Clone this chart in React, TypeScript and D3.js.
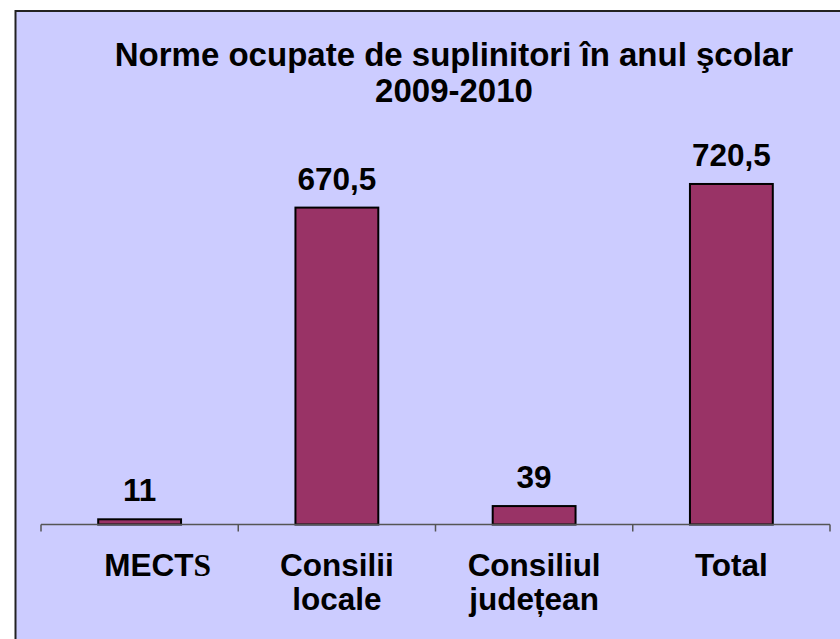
import React from "react";
import * as d3 from "d3";

const categories: string[][] = [["MECT", "S"], ["Consilii", "locale"], ["Consiliul", "județean"], ["Total"]];
const categoryKeys = ["MECTS", "Consilii locale", "Consiliul judetean", "Total"];
const values = [11, 670.5, 39, 720.5];
const valueLabels = ["11", "670,5", "39", "720,5"];
const titleLines = ["Norme ocupate de suplinitori în anul şcolar", "2009-2010"];
const yDomain = [0, 800];

const W = 840;
const H = 639;
const FONT = "'Liberation Sans', Arial, sans-serif";

export default function App() {
  const x = d3.scaleBand<string>().domain(categoryKeys).range([41, 830]).paddingInner(0).paddingOuter(0);
  const y = d3.scaleLinear().domain(yDomain).range([524.5, 146.4]);
  const barW = x.bandwidth() * 0.42;
  const axisY = y(0);

  return (
    <svg width={W} height={H} style={{ position: "absolute", left: 0, top: 0 }} xmlns="http://www.w3.org/2000/svg">
      <rect x={0} y={0} width={W} height={H} fill="#ffffff" />
      <rect x={15.5} y={11} width={W + 20} height={H + 20} fill="#CCCCFF" stroke="#222" strokeWidth={2} />
      {titleLines.map((t, i) => (
        <text key={i} x={454} y={66 + i * 36} textAnchor="middle" fontFamily={FONT} fontWeight="bold" fontSize={33} fill="#000">
          {t}
        </text>
      ))}
      {categoryKeys.map((k, i) => {
        const cx = (x(k) as number) + x.bandwidth() / 2;
        const top = y(values[i]);
        return (
          <g key={k}>
            <rect x={cx - barW / 2} y={top} width={barW} height={axisY - top} fill="#993366" stroke="#000" strokeWidth={2} />
            <text x={cx} y={top - 18} textAnchor="middle" fontFamily={FONT} fontWeight="bold" fontSize={31.5} fill="#000">
              {valueLabels[i]}
            </text>
          </g>
        );
      })}
      <line x1={41} x2={830} y1={axisY} y2={axisY} stroke="#555" strokeWidth={1.5} />
      {[...categoryKeys.map((k) => x(k) as number), 830].map((tx, i) => (
        <line key={i} x1={tx} x2={tx} y1={axisY} y2={axisY + 7} stroke="#555" strokeWidth={1.5} />
      ))}
      {categoryKeys.map((k, i) => {
        const cx = (x(k) as number) + x.bandwidth() / 2;
        const lines = categories[i];
        if (i === 0) {
          return (
            <text key={k} x={cx + 18} y={576} textAnchor="middle" fontFamily={FONT} fontWeight="bold" fontSize={31.5} fill="#000">
              {lines[0]}
              <tspan fontFamily="'Liberation Serif', 'Times New Roman', serif">{lines[1]}</tspan>
            </text>
          );
        }
        return (
          <text key={k} textAnchor="middle" fontFamily={FONT} fontWeight="bold" fontSize={31.5} fill="#000">
            {lines.map((l, j) => (
              <tspan key={j} x={cx} y={576 + j * 34}>
                {l}
              </tspan>
            ))}
          </text>
        );
      })}
    </svg>
  );
}
